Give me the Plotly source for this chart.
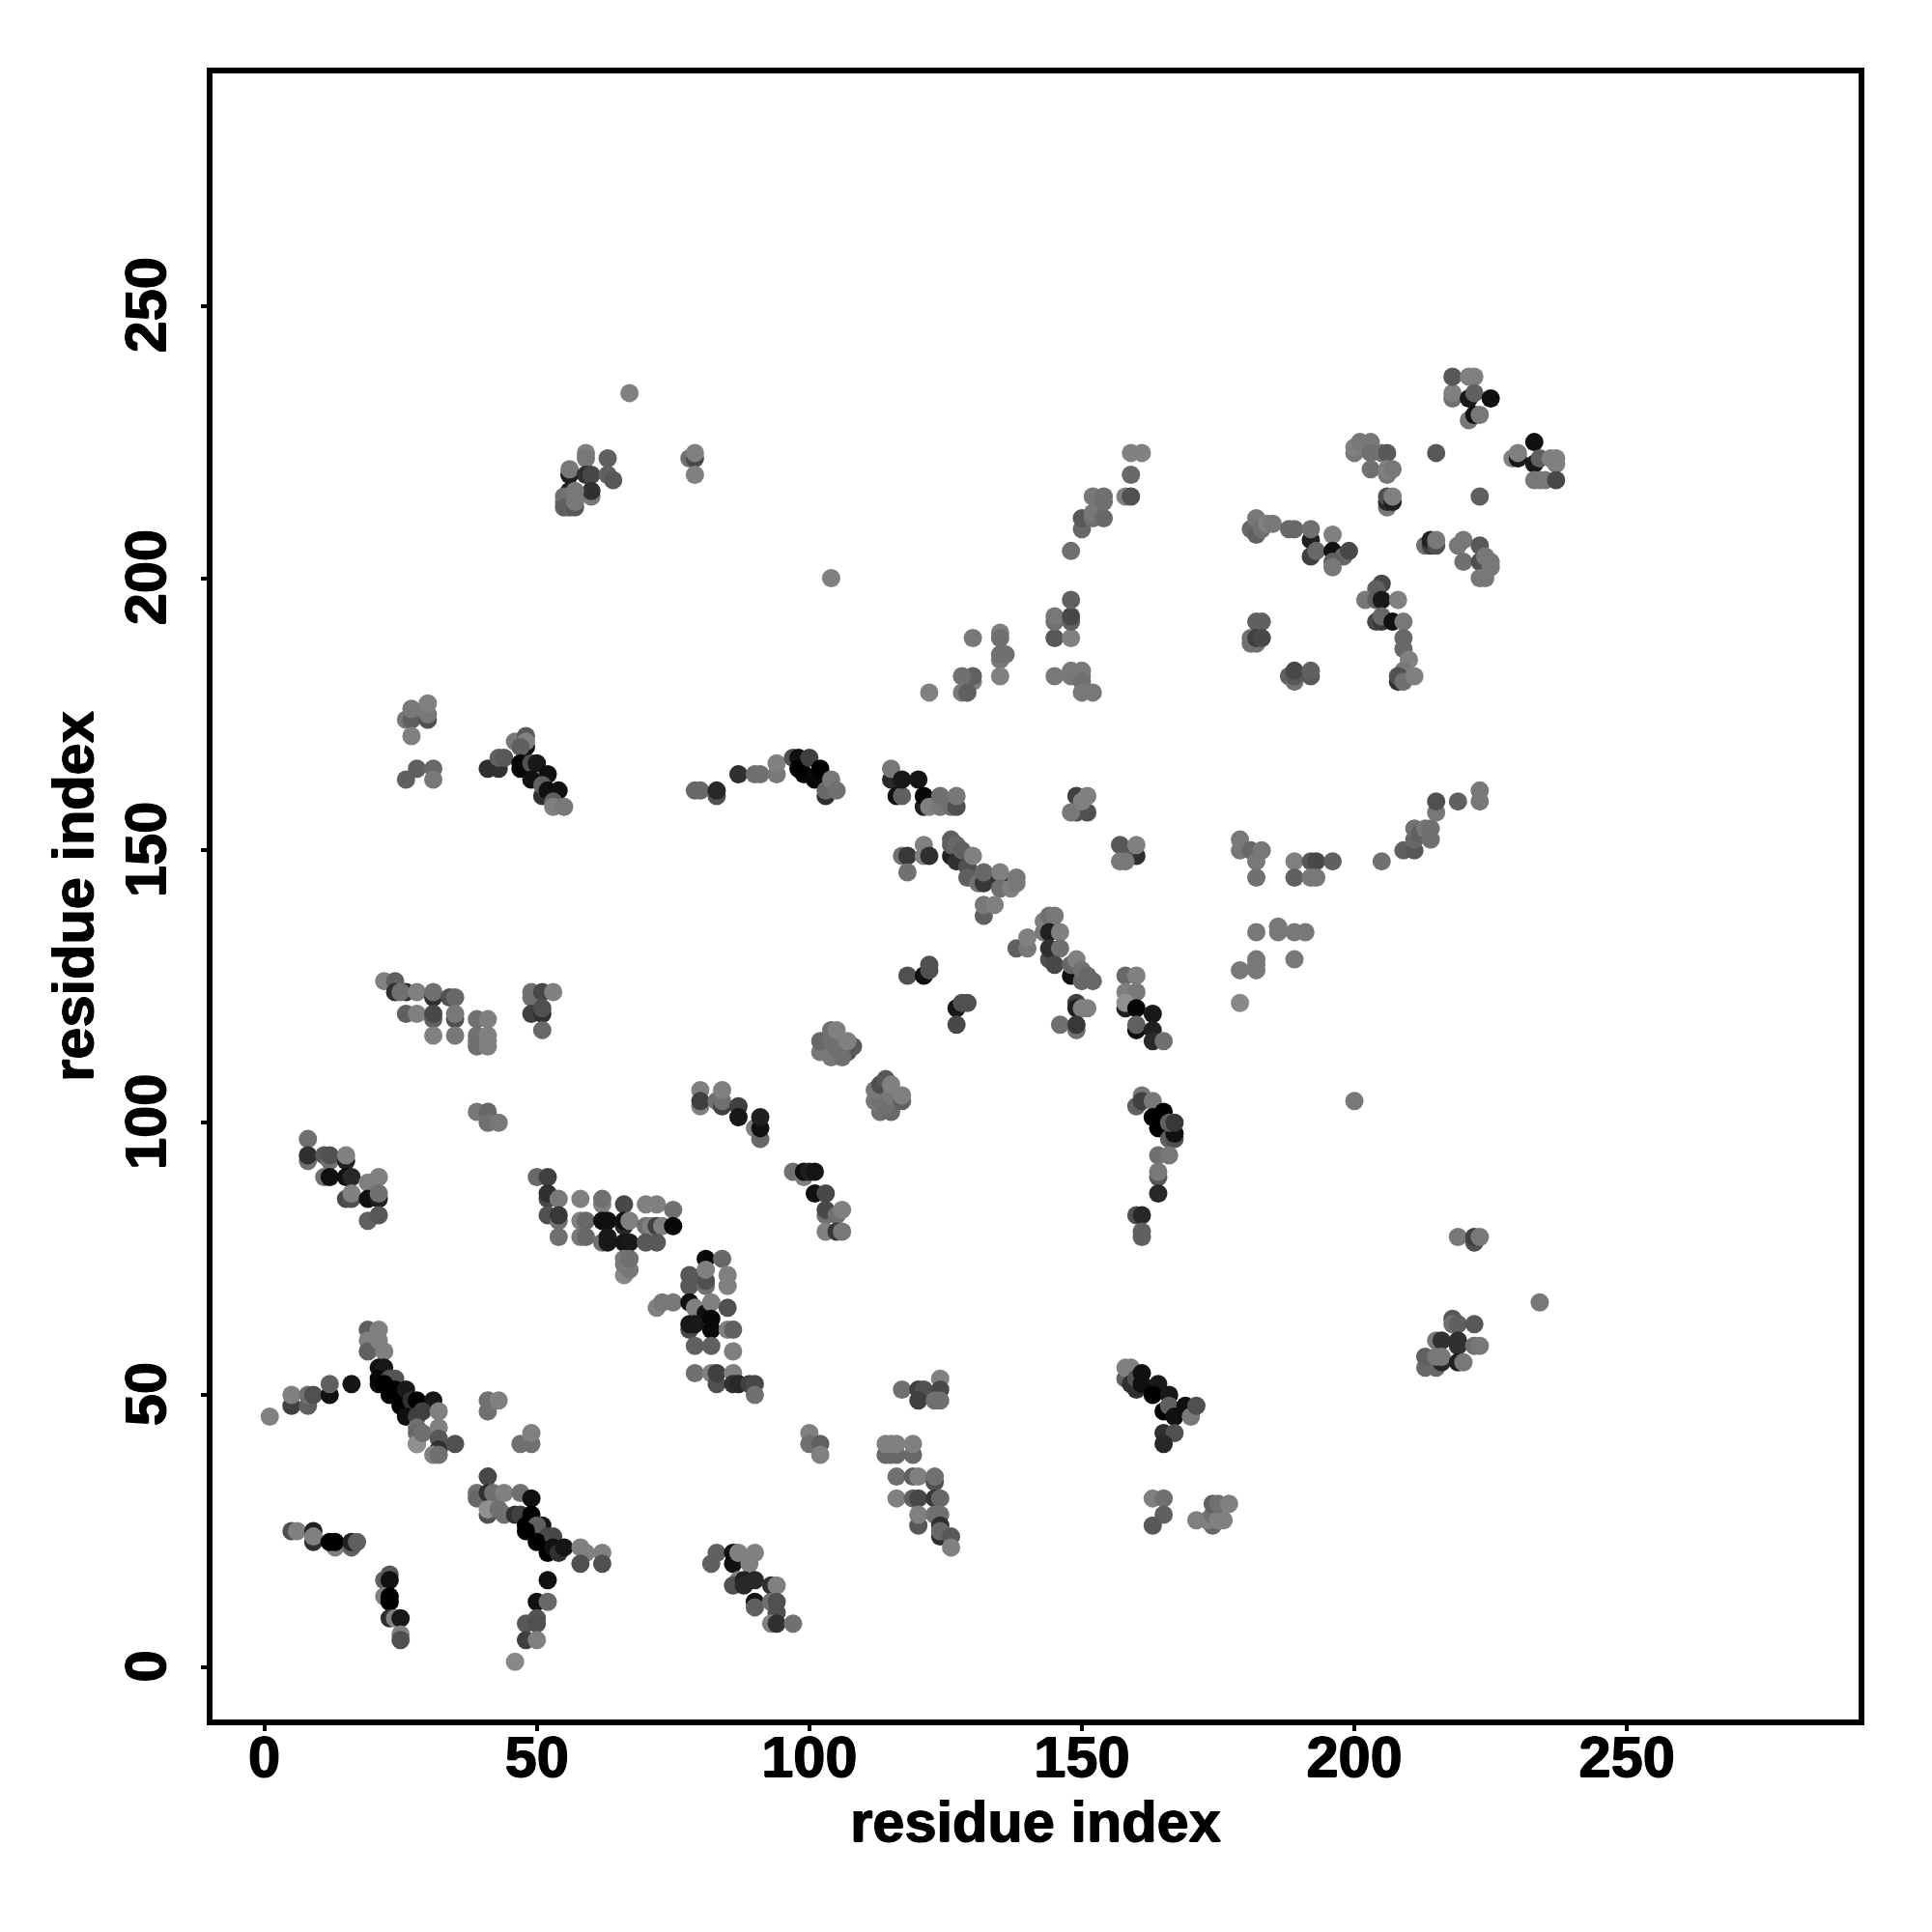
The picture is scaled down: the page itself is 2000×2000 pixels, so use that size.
import plotly.graph_objects as go

# (residue i, residue j, level); level: 0 = strongest/darkest
low_left = [(1,46,0x80),(5,48,0x40),(5,50,0x80),(8,48,0x60),(8,50,0x70),(9,50,0x50),(12,50,0x10),(12,52,0x60),(16,52,0x15),
 (19,62,0x60),(21,62,0x80),(19,60,0x80),(19,58,0x60),(21,60,0x80),(22,58,0x80),(21,55,0x10),(21,52,0x10),(22,55,0x18),(21,53,0x08),
 (23,53,0x50),(24,53,0x55),(23,50,0x00),(22,52,0x00),(24,51,0x00),(25,48,0x00),(26,51,0x18),(27,49,0x30),(28,49,0x00),(31,49,0x18),(26,46,0x10),(29,47,0x40),(28,46,0x40),(32,47,0x80),
 (28,44,0x70),(28,43,0x68),(28,41,0x50),(28,41,0x90),(29,43,0x70),(32,44,0x80),(32,42,0x58),(32,40,0x30),(31,39,0x80),(32,39,0x70),(35,41,0x50),
 (41,47,0x70),(41,49,0x70),(43,49,0x80),(47,41,0x70),(49,41,0x70),(49,43,0x80)]
low_mid = [(41,35,0x48),(39,32,0x70),(39,31,0x68),(41,32,0x30),(42,32,0x70),(44,32,0x80),(47,32,0x70),(49,31,0x10),(41,28,0x50),(41,29,0x90),(43,29,0x70),(44,28,0x70),(46,28,0x30),(47,28,0x40),(49,28,0x00),
 (48,26,0x00),(51,26,0x15),(50,26,0x60),(48,25,0x00),(52,24,0x48),(50,23,0x00),(53,24,0x48),(52,21,0x00),(53,22,0x10),(54,21,0x30),(55,22,0x15),(58,22,0x80),(59,21,0x80),(62,21,0x80),(58,19,0x50),(62,19,0x50),
 (52,16,0x10),(50,12,0x10),(52,12,0x68),(50,9,0x55),(48,8,0x58),(50,8,0x50),(48,5,0x40),(50,5,0x80),(46,1,0x88),
 (5,25,0x50),(6,25,0x80),(9,25,0x20),(9,23,0x30),(9,24,0x80),(13,22,0x80),(12,23,0x00),(13,23,0x00),(16,22,0x60),(16,23,0x20),(17,23,0x60),
 (22,16,0x60),(23,17,0x58),(23,16,0x10),(22,13,0x80),(23,13,0x00),(23,12,0x00),(23,9,0x30),(24,9,0x80),(25,9,0x18),(25,6,0x80),(25,5,0x50)]
low_right = [(83,21,0x60),(82,19,0x60),(86,19,0x10),(86,21,0x10),(87,21,0x80),(89,19,0x80),(90,21,0x80),(87,16,0x80),(86,15,0x50),(88,16,0x20),(88,15,0x28),(90,16,0x28),(93,15,0x30),(94,15,0x80),(90,12,0x10),(90,11,0x60),(93,12,0x70),(94,12,0x50),(94,10,0x50),(93,8,0x80),(94,8,0x30),(97,8,0x70),
 (117,51,0x70),(120,51,0x40),(121,51,0x50),(120,49,0x40),(124,53,0x80),(124,51,0x48),(123,49,0x70),(124,49,0x70),
 (100,43,0x80),(100,41,0x70),(102,41,0x60),(102,39,0x80),
 (114,39,0x68),(115,39,0x68),(116,39,0x68),(119,39,0x68),(114,41,0x80),(115,41,0x80),(116,41,0x80),(119,41,0x80),
 (116,35,0x70),(119,35,0x60),(120,35,0x80),(123,34,0x50),(123,35,0x70),(116,31,0x80),(119,31,0x60),(120,31,0x48),(123,31,0x38),(124,31,0x68),(120,26,0x58),(120,28,0x80),(123,28,0x70),(124,28,0x70),(124,26,0x30),(124,24,0x30),(124,25,0x68),(126,24,0x58),(126,22,0x80)]
low_far = [(160,83,0x50),(161,83,0x28),(161,80,0x60),(161,79,0x60),
 (158,53,0x60),(158,55,0x80),(159,55,0x80),(159,52,0x30),(160,51,0x30),(160,53,0x50),(161,54,0x10),(161,52,0x10),(164,52,0x18),(163,50,0x00),(166,50,0x18),(165,47,0x00),(166,48,0x60),(167,46,0x10),(169,48,0x10),(170,46,0x78),(171,48,0x50),(165,43,0x30),(167,43,0x50),(165,41,0x28),
 (163,31,0x80),(165,31,0x70),(165,28,0x60),(163,26,0x58),(171,27,0x80),(174,26,0x68),(173,27,0x80),(174,28,0x70),(175,27,0x80),(176,27,0x80),(174,30,0x60),(175,30,0x70),(177,30,0x80),
 (219,79,0x78),(222,78,0x50),(222,79,0x40),(223,79,0x78),(234,67,0x78),
 (218,64,0x58),(218,63,0x70),(219,63,0x60),(222,63,0x58),(215,60,0x78),(216,60,0x30),(219,60,0x30),(219,59,0x30),(222,59,0x70),(223,59,0x78),(213,55,0x68),(215,55,0x68),(213,57,0x60),(216,56,0x28),(215,57,0x78),(216,57,0x78),(219,56,0x20),(220,56,0x78)]
mid_left = [(8,97,0x70),(8,93,0x70),(8,94,0x30),(11,94,0x58),(12,93,0x70),(12,94,0x50),(15,93,0x20),(15,94,0x80),(11,90,0x70),(12,90,0x10),(15,90,0x10),(16,90,0x28),(19,89,0x80),(21,90,0x80),(15,86,0x48),(16,86,0x50),(16,87,0x80),(19,86,0x10),(21,86,0x20),(21,87,0x70),(19,82,0x60),(21,83,0x58),
 (22,126,0x80),(24,126,0x60),(24,124,0x30),(26,124,0x30),(25,124,0x70),(28,124,0x80),(31,123,0x30),(31,124,0x70),(34,123,0x50),(35,123,0x68),(26,120,0x60),(28,120,0x80),(31,119,0x60),(31,120,0x48),(35,119,0x50),(35,120,0x78),(31,116,0x80),(35,116,0x78),
 (39,119,0x70),(41,119,0x80),(39,114,0x70),(39,115,0x70),(39,116,0x70),(41,114,0x80),(41,115,0x80),(41,116,0x80),
 (49,123,0x70),(49,124,0x70),(51,124,0x48),(53,124,0x80),(49,120,0x40),(51,120,0x30),(51,121,0x50),(51,117,0x68),
 (39,102,0x78),(41,102,0x68),(41,100,0x70),(43,100,0x78)]
mid_center = [(50,90,0x68),(52,90,0x40),(52,86,0x48),(52,87,0x30),(54,86,0x78),(52,83,0x50),(54,82,0x70),(54,83,0x38),(54,79,0x70),(58,86,0x80),(58,82,0x80),(59,82,0x68),(58,79,0x78),(59,79,0x68),(62,85,0x80),(62,86,0x70),(66,85,0x48),(62,78,0x70),(62,82,0x10),(63,82,0x10),(66,81,0x28),(66,82,0x10),(67,82,0x80),(63,79,0x18),(63,78,0x18),(66,78,0x15),(67,78,0x18),
 (70,85,0x80),(72,85,0x80),(75,84,0x70),(70,81,0x70),(71,81,0x80),(72,81,0x40),(73,81,0x80),(75,81,0x08),(70,78,0x58),(72,78,0x58),(66,72,0x88),(66,74,0x78),(66,75,0x78),(67,73,0x78),(67,75,0x70),
 (81,75,0x08),(84,75,0x68),(78,70,0x58),(78,72,0x58),(81,70,0x70),(81,71,0x50),(81,73,0x80),(85,70,0x80),(85,72,0x80),
 (72,66,0x80),(73,67,0x78),(75,67,0x78),(78,67,0x10),(79,66,0x80),(81,65,0x10),(82,67,0x80),(85,66,0x50),(78,62,0x48),(78,63,0x18),(79,63,0x18),(82,64,0x08),(82,62,0x08),(85,62,0x80),(86,62,0x60),(79,59,0x60),(82,59,0x60),(86,58,0x80),
 (79,54,0x70),(82,54,0x80),(83,52,0x50),(83,54,0x40),(86,54,0x80),(86,52,0x30),(87,52,0x28),(89,52,0x40),(90,52,0x48),(90,50,0x70),
 (80,106,0x80),(80,103,0x80),(80,104,0x40),(83,104,0x70),(84,103,0x40),(84,104,0x70),(84,106,0x80),(87,103,0x40),(87,101,0x18),(90,99,0x80),(91,97,0x68),(91,99,0x10),(91,101,0x20)]
mid_right = [(97,91,0x70),(99,90,0x80),(99,91,0x10),(100,91,0x20),(101,91,0x15),(101,87,0x10),(103,87,0x48),(103,83,0x70),(103,84,0x48),(105,83,0x70),(106,84,0x80),(103,80,0x80),(105,80,0x38),(106,80,0x78),
 (118,127,0x50),(121,127,0x10),(122,128,0x50),(122,129,0x50),(127,121,0x18),(128,122,0x50),(129,122,0x50),(127,118,0x48),
 (106,113,0x40),(107,113,0x50),(108,114,0x58),(102,113,0x78),(102,115,0x68),(104,112,0x78),(104,115,0x70),(104,117,0x70),(105,114,0x70),(105,117,0x80),(106,112,0x70),(107,115,0x80),
 (113,102,0x70),(115,102,0x68),(114,103,0x70),(112,104,0x78),(113,104,0x70),(112,106,0x78),(113,107,0x50),(114,108,0x58),(115,105,0x78),(115,107,0x80),(117,104,0x60),(117,105,0x80),
 (160,103,0x60),(161,105,0x78),(161,104,0x40),(163,104,0x78),(163,101,0x00),(165,102,0x00),(164,99,0x00),(166,97,0x60),(167,97,0x50),(167,98,0x10),(166,100,0x60),(167,100,0x38),(164,94,0x70),(166,94,0x78),(164,90,0x58),(164,91,0x78),(164,87,0x28),
 (149,122,0x40),(149,121,0x20),(150,121,0x80),(151,121,0x80),(146,118,0x70),(149,117,0x70),(149,118,0x38),
 (158,127,0x68),(160,127,0x80),(158,124,0x80),(160,124,0x78),(158,121,0x20),(158,122,0x90),(160,121,0x05),(163,120,0x18),(160,117,0x10),(160,118,0x60),(163,117,0x20),(163,115,0x28),(165,115,0x70),(179,122,0x88),(200,104,0x78)]
up_left = [(26,174,0x78),(27,174,0x60),(27,176,0x78),(27,171,0x80),(30,174,0x50),(30,175,0x78),(30,177,0x80),(26,163,0x60),(28,165,0x60),(31,165,0x68),(31,163,0x78),
 (41,165,0x30),(43,165,0x30),(43,167,0x60),(44,167,0x58),(46,170,0x78),(48,169,0x10),(48,171,0x58),(48,170,0x80),(47,169,0x60),(47,166,0x08),(47,165,0x08),(49,166,0x50),(50,166,0x18),(49,163,0x10),(52,164,0x10),(51,160,0x30),(51,162,0x60),(52,161,0x10),(54,161,0x10),(53,159,0x60),(53,158,0x80),(55,158,0x78),
 (79,161,0x68),(80,161,0x68),(83,160,0x50),(83,161,0x28),(87,164,0x30),(90,164,0x70),(91,164,0x70),(94,164,0x78),(94,166,0x80),(97,167,0x50),(98,167,0x10),(99,164,0x08),(98,165,0x00),(100,167,0x40),(101,163,0x08),(102,165,0x00),(103,160,0x30),(103,161,0x68),(104,163,0x78),(105,161,0x70),
 (67,234,0x80),(59,223,0x80),(59,222,0x78),(63,222,0x60),(56,219,0x20),(56,220,0x78),(59,219,0x30),(60,219,0x48),(63,219,0x60),(64,218,0x58),(60,215,0x78),(60,216,0x30),(56,216,0x20),(55,215,0x70),(55,214,0x70),(57,216,0x78),(55,213,0x60),(56,213,0x60),(57,213,0x58),(57,214,0x78),
 (78,222,0x70),(79,222,0x48),(79,223,0x80),(79,219,0x80),(104,200,0x80)]
up_mid = [(115,163,0x28),(115,165,0x78),(116,160,0x10),(117,160,0x60),(117,163,0x18),(120,163,0x15),(121,158,0x20),(121,160,0x08),(122,158,0x80),(124,158,0x78),(124,160,0x70),(126,158,0x70),(127,158,0x50),(127,160,0x78),
 (117,149,0x70),(118,149,0x38),(118,146,0x70),(121,149,0x80),(121,151,0x80),(122,149,0x30),
 (126,149,0x20),(126,151,0x60),(126,152,0x60),(127,148,0x30),(127,151,0x68),(128,150,0x60),(129,147,0x50),(129,145,0x60),(130,149,0x80),(131,144,0x70),(132,144,0x38),(132,146,0x68),(135,145,0x30),(135,146,0x80),(135,143,0x70),(137,143,0x80),(138,144,0x78),(138,145,0x78),
 (132,138,0x60),(132,140,0x78),(134,140,0x80),(138,132,0x60),(140,132,0x78),(140,134,0x80),(143,135,0x78),(143,137,0x80),(144,138,0x70),(145,138,0x78),(144,135,0x20),(146,135,0x80),(144,130,0x50),(144,132,0x30),(146,132,0x70),(145,129,0x48),(148,127,0x10),(148,129,0x68),(149,130,0x80),(150,126,0x68),(150,128,0x70),(151,127,0x68),(152,126,0x68),
 (149,160,0x40),(149,157,0x50),(151,157,0x50),(148,157,0x78),(150,159,0x80),(151,160,0x80),
 (160,149,0x30),(157,151,0x58),(158,150,0x58),(157,148,0x78),(158,148,0x78),(160,151,0x80),
 (130,181,0x80),(130,182,0x60),(128,182,0x70),(128,179,0x78),(129,179,0x60),(130,189,0x78),(135,190,0x80),(135,189,0x70),(135,185,0x78),(135,186,0x70),(136,186,0x70),(135,182,0x80),(122,179,0x80),
 (145,189,0x58),(148,189,0x80),(145,192,0x70),(145,193,0x78),(148,192,0x60),(148,193,0x48),(148,196,0x60),(148,205,0x70),
 (145,182,0x78),(148,182,0x78),(148,183,0x78),(150,182,0x78),(150,183,0x78),(150,181,0x70),(150,179,0x78),(152,179,0x78),
 (150,209,0x68),(150,211,0x58),(152,211,0x70),(152,212,0x78),(152,215,0x78),(154,211,0x68),(154,214,0x70),(154,215,0x70),(158,215,0x80),(159,215,0x50),(159,219,0x68),(159,223,0x80),(161,223,0x80)]
up_right = [(179,150,0x78),(179,152,0x78),(181,150,0x68),(183,150,0x78),(182,148,0x78),(182,145,0x70),(189,148,0x80),(189,145,0x60),(192,148,0x58),(193,148,0x48),(196,148,0x60),(192,145,0x78),(193,145,0x78),(205,148,0x70),
 (209,150,0x60),(211,150,0x58),(211,152,0x68),(211,154,0x70),(212,153,0x60),(213,154,0x78),(214,152,0x70),(214,154,0x70),(215,157,0x78),(215,159,0x50),(219,159,0x60),(223,159,0x78),(223,161,0x78),
 (179,128,0x78),(182,128,0x78),(182,129,0x78),(182,130,0x78),(182,135,0x78),(186,135,0x78),(186,136,0x78),(189,135,0x78),(191,135,0x78),(189,130,0x78),
 (218,233,0x70),(218,234,0x80),(218,237,0x58),(221,237,0x80),(222,237,0x80),(221,233,0x18),(222,234,0x60),(225,233,0x10),(221,229,0x78),(222,230,0x10),(223,230,0x78),
 (233,225,0x10),(229,222,0x80),(230,222,0x18),(230,223,0x80),(233,221,0x18),(234,222,0x60),(236,222,0x80),(237,221,0x80),(237,222,0x80),(233,218,0x78),(234,218,0x78),(235,218,0x78),(237,218,0x48),
 (200,223,0x78),(200,224,0x80),(201,225,0x78),(203,225,0x78),(203,223,0x70),(205,223,0x70),(206,223,0x58),(203,220,0x70),(206,219,0x78),(206,220,0x80),(207,220,0x78),
 (215,223,0x58),(223,215,0x60),(206,213,0x78),(206,214,0x28),(206,215,0x50),(207,214,0x20),(207,215,0x80),
 (181,209,0x68),(182,208,0x60),(182,211,0x78),(183,209,0x70),(184,210,0x80),(185,210,0x78),(188,209,0x68),(189,209,0x68),(192,204,0x40),(192,207,0x20),(192,209,0x70),(193,205,0x68),(196,208,0x80),(196,205,0x10),(198,204,0x68),(199,205,0x48),(196,203,0x60),(196,202,0x78),
 (213,206,0x70),(214,206,0x40),(214,207,0x20),(215,206,0x50),(215,207,0x78),(219,206,0x78),(220,207,0x78),(223,206,0x58),(220,203,0x70),(223,203,0x50),(224,204,0x78),(225,203,0x78),(225,202,0x78),(223,200,0x78),(224,200,0x78),
 (205,199,0x48),(204,198,0x60),(202,196,0x78),(204,196,0x60),(205,196,0x18),(208,196,0x80),(204,192,0x48),(205,192,0x38),(205,193,0x68),(207,192,0x10),(209,192,0x78),(209,189,0x68),(209,187,0x68),(210,185,0x80),(209,183,0x78),(208,181,0x30),(208,182,0x50),(209,181,0x70),(211,182,0x80),
 (181,188,0x70),(181,189,0x70),(182,188,0x70),(182,192,0x60),(183,192,0x60),(182,189,0x40),(183,189,0x48),
 (188,182,0x60),(189,181,0x70),(189,182,0x58),(189,183,0x48),(192,182,0x58),(192,183,0x60)]

regions = [low_left, low_mid, low_right, low_far, mid_left, mid_center, mid_right, up_left, up_mid, up_right]
res_i = [p[0] for r in regions for p in r]
res_j = [p[1] for r in regions for p in r]
level = [p[2] for r in regions for p in r]
tick_values = [0, 50, 100, 150, 200, 250]
axis_label = "residue index"

fig = go.Figure(go.Scatter(
    x=res_i, y=res_j, mode="markers",
    marker=dict(size=19, color=level, cmin=0, cmax=144,
                colorscale=[[0, "rgb(0,0,0)"], [1, "rgb(144,144,144)"]],
                showscale=False, line=dict(width=0)),
))
heavy = "0.7px 0 0 black,-0.7px 0 0 black,0 0.7px 0 black,0 -0.7px 0 black"
font = dict(family="Liberation Sans", size=59.5, color="black", weight="bold", shadow=heavy)
axis = dict(showgrid=False, zeroline=False, showline=True, mirror=True, linecolor="black", linewidth=6,
            ticks="outside", ticklen=6, tickwidth=3.5, tickcolor="black",
            tickvals=tick_values, tickfont=font, automargin=False)
fig.update_xaxes(range=[-9.5, 292.5], ticklabelstandoff=-24, title=dict(text=axis_label, font=font, standoff=14), **axis)
fig.update_yaxes(range=[-9.6, 292.7], tickangle=-90, ticklabelstandoff=13, ticklabelshift=8,
                 title=dict(text=axis_label, font=font, standoff=3), **axis)
fig.update_layout(width=2000, height=2000, margin=dict(l=212, r=84, t=68, b=228, pad=0),
                  paper_bgcolor="white", plot_bgcolor="white", showlegend=False)
fig.write_html("out.html")
